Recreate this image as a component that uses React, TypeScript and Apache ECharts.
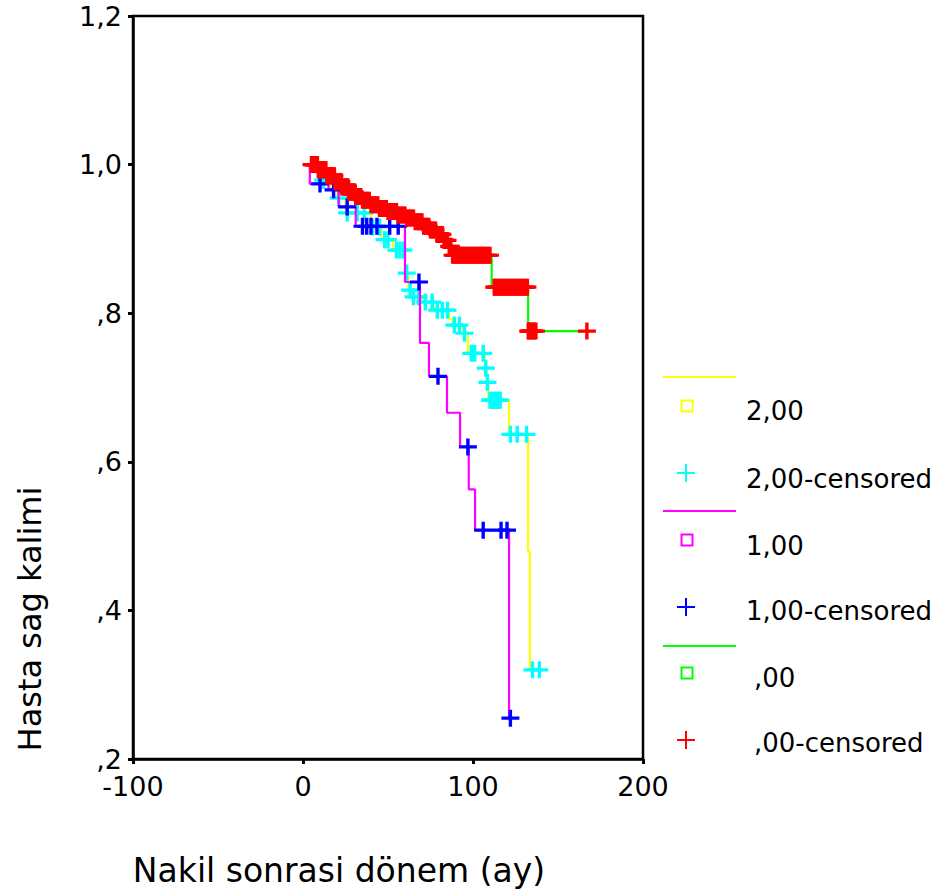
import React, { useEffect, useRef } from "react";
import * as echarts from "echarts";

// Kaplan-Meier step data: [time (ay), survival after event]
const group2Steps: [number, number][] = [
  [2, 1.0], [5, 0.99], [9, 0.979], [16, 0.966], [20, 0.955], [25, 0.935], [40, 0.916],
  [46, 0.899], [53, 0.885], [60, 0.854], [62, 0.831], [64, 0.822], [70, 0.815], [77, 0.804],
  [86, 0.792], [88, 0.784], [94, 0.773], [97, 0.746], [107, 0.726], [108, 0.707], [109, 0.683],
  [121.2, 0.637], [132.4, 0.479], [133.5, 0.32],
];
const group2End = 139;
const group2Censored: number[] = [
  12, 21, 26, 32, 36, 41, 45, 48, 50, 55, 57, 59, 61, 63, 65, 68, 72, 76, 79, 82, 85, 89, 92,
  95, 99, 101, 106, 107.5, 108.5, 110, 111, 112, 113, 114, 115, 116, 122, 126, 131.5, 135, 139,
];

const group1Steps: [number, number][] = [
  [2, 1.0], [4, 0.974], [15, 0.966], [21, 0.943], [31, 0.917], [60, 0.842], [68.8, 0.76],
  [74.1, 0.715], [84.7, 0.666], [92.4, 0.62], [97.5, 0.563], [101.2, 0.508], [121.2, 0.255],
];
const group1End = 122;
const group1Censored: number[] = [
  10, 18, 26, 35, 37.5, 40, 43.5, 51, 56, 68.2, 79.4, 97, 106, 116.5, 120, 122,
];

const group0Steps: [number, number][] = [
  [2, 1.0], [9, 0.993], [14, 0.985], [19, 0.977], [23, 0.97], [27, 0.963], [31, 0.957],
  [35, 0.952], [40, 0.946], [45, 0.941], [50, 0.937], [56, 0.932], [61, 0.928], [66, 0.923],
  [71, 0.917], [75, 0.912], [79, 0.906], [83, 0.898], [86, 0.89], [88, 0.878], [111, 0.835],
  [132.4, 0.776],
];
const group0End = 167;
const group0Censored: number[] = [
  5, 5.5, 6, 6.5, 7, 7.5, 8, 8.5, 9, 9.5, 10, 10.5, 11, 11.5, 12, 12.5, 13, 13.5, 14, 14.5,
  15, 15.5, 16, 16.5, 17, 17.5, 18, 18.5, 19, 19.5, 20, 20.5, 21, 21.5, 22, 22.5, 23, 23.5,
  24, 24.5, 25, 25.5, 26, 26.5, 27, 27.5, 28, 28.5, 29, 29.5, 30, 30.5, 31, 31.5, 32, 33,
  34, 35, 36, 37, 38, 39, 40, 41, 42, 43, 44, 45, 46, 47, 48, 49, 50, 51, 52, 53, 54, 55,
  56, 57, 58, 59, 60, 61, 62, 63, 64, 65, 66, 67, 68, 69, 70, 71, 72, 73, 74, 75, 76, 77,
  78, 79, 80, 81, 82, 83, 84, 85, 86, 87, 88, 89,
  90, 91, 92, 93, 94, 95, 96, 97, 98, 99, 100, 101, 102, 103, 104, 105, 106, 107, 108, 109, 110,
  112.5, 113, 114, 115, 116, 117, 118, 119, 120, 121, 122, 123, 124, 125, 126, 127, 128, 129,
  130, 131, 132, 132.5, 133, 134, 135, 136, 137, 167,
];

const xTicks = { min: -100, max: 200, interval: 100 };
const yTicks = { min: 0.2, max: 1.2, interval: 0.2 };

const legendItems = [
  { label: "2,00", line: "#ffff00", cross: "#00ffff", crossLabel: "2,00-censored" },
  { label: "1,00", line: "#ff00ff", cross: "#0000ff", crossLabel: "1,00-censored" },
  { label: ",00", line: "#00ff00", cross: "#ff0000", crossLabel: ",00-censored" },
];

const PLUS = "path://M7.3,0H10.7V7.3H18V10.7H10.7V18H7.3V10.7H0V7.3H7.3Z";
const FONT = "DejaVu Sans";

function survAt(steps: [number, number][], t: number): number {
  let s = steps[0][1];
  for (const [tt, v] of steps) {
    if (tt <= t) s = v;
  }
  return s;
}

function lineData(steps: [number, number][], end: number) {
  const last = steps[steps.length - 1];
  return [...steps.map((p) => [p[0], p[1]]), [end, last[1]]];
}

function censData(steps: [number, number][], times: number[]) {
  return times.map((t) => [t, survAt(steps, t)]);
}

function lineSeries(data: number[][], color: string, z: number) {
  return {
    type: "line",
    step: "end",
    data,
    z,
    showSymbol: false,
    symbol: "none",
    lineStyle: { color, width: 2.2 },
    itemStyle: { color },
    silent: true,
  };
}

function crossSeries(data: number[][], color: string, z: number) {
  return {
    type: "scatter",
    data,
    z,
    symbol: PLUS,
    symbolSize: [18, 17],
    itemStyle: { color, opacity: 1 },
    silent: true,
  };
}

export default function App() {
  const ref = useRef<HTMLDivElement>(null);
  useEffect(() => {
    if (!ref.current) return;
    const chart = echarts.init(ref.current, undefined, { renderer: "svg" });

    const graphic: any[] = [];
    const rowY = [
      { line: 377, sq: 406, sqText: 411, cross: 473, crossText: 479 },
      { line: 511, sq: 540, sqText: 546, cross: 607, crossText: 611 },
      { line: 646, sq: 673, sqText: 678, cross: 740, crossText: 743 },
    ];
    legendItems.forEach((it, i) => {
      const r = rowY[i];
      const tx = i === 2 ? 754 : 746;
      graphic.push({
        type: "line",
        shape: { x1: 663, y1: r.line, x2: 736, y2: r.line },
        style: { stroke: it.line, lineWidth: 2 },
      });
      graphic.push({
        type: "rect",
        shape: { x: 681.5, y: r.sq - 5.5, width: 11, height: 11 },
        style: { fill: "none", stroke: it.line, lineWidth: 2 },
      });
      graphic.push({
        type: "text",
        x: tx,
        y: r.sqText,
        style: { text: it.label, fontSize: 26, fontFamily: FONT, fill: "#000", textVerticalAlign: "middle" },
      });
      graphic.push({
        type: "line",
        shape: { x1: 677, y1: r.cross, x2: 695, y2: r.cross },
        style: { stroke: it.cross, lineWidth: 2 },
      });
      graphic.push({
        type: "line",
        shape: { x1: 686, y1: r.cross - 9, x2: 686, y2: r.cross + 9 },
        style: { stroke: it.cross, lineWidth: 2 },
      });
      graphic.push({
        type: "text",
        x: tx,
        y: r.crossText,
        style: { text: it.crossLabel, fontSize: 26, fontFamily: FONT, fill: "#000", textVerticalAlign: "middle" },
      });
    });
    graphic.push({
      type: "text",
      x: 339,
      y: 870,
      style: {
        text: "Nakil sonrasi dönem (ay)",
        fontSize: 33,
        fontFamily: FONT,
        fill: "#000",
        textAlign: "center",
        textVerticalAlign: "middle",
      },
    });
    graphic.push({
      type: "text",
      x: 30,
      y: 619,
      rotation: Math.PI / 2,
      style: {
        text: "Hasta sag kalimi",
        fontSize: 32,
        fontFamily: FONT,
        fill: "#000",
        textAlign: "center",
        textVerticalAlign: "middle",
      },
    });

    const option: any = {
      animation: false,
      backgroundColor: "#fff",
      grid: {
        left: 133,
        right: 300,
        top: 16,
        bottom: 133,
        show: true,
        borderColor: "#000",
        borderWidth: 2.5,
        backgroundColor: "transparent",
      },
      xAxis: {
        type: "value",
        min: xTicks.min,
        max: xTicks.max,
        interval: xTicks.interval,
        axisLine: { show: true, onZero: false, lineStyle: { color: "#000", width: 2.5 } },
        axisTick: { show: true, length: 5, lineStyle: { color: "#000", width: 3 } },
        axisLabel: { color: "#000", fontSize: 27, fontFamily: FONT, margin: 14 },
        splitLine: { show: false },
      },
      yAxis: {
        type: "value",
        min: yTicks.min,
        max: yTicks.max,
        interval: yTicks.interval,
        axisLine: { show: true, onZero: false, lineStyle: { color: "#000", width: 2.5 } },
        axisTick: { show: true, length: 5, lineStyle: { color: "#000", width: 3 } },
        axisLabel: {
          color: "#000",
          fontSize: 27,
          fontFamily: FONT,
          margin: 11,
          formatter: (v: number) => v.toFixed(1).replace(".", ",").replace(/^0/, ""),
        },
        splitLine: { show: false },
      },
      series: [
        lineSeries(lineData(group2Steps, group2End), "#ffff00", 2),
        crossSeries(censData(group2Steps, group2Censored), "#00ffff", 3),
        lineSeries(lineData(group1Steps, group1End), "#ff00ff", 4),
        crossSeries(censData(group1Steps, group1Censored), "#0000ff", 5),
        lineSeries(lineData(group0Steps, group0End), "#00ff00", 6),
        crossSeries(censData(group0Steps, group0Censored), "#ff0000", 7),
      ],
      graphic,
    };
    chart.setOption(option);
    return () => chart.dispose();
  }, []);
  return (
    <div
      ref={ref}
      style={{ position: "absolute", left: 0, top: 0, width: 943, height: 892 }}
    />
  );
}
